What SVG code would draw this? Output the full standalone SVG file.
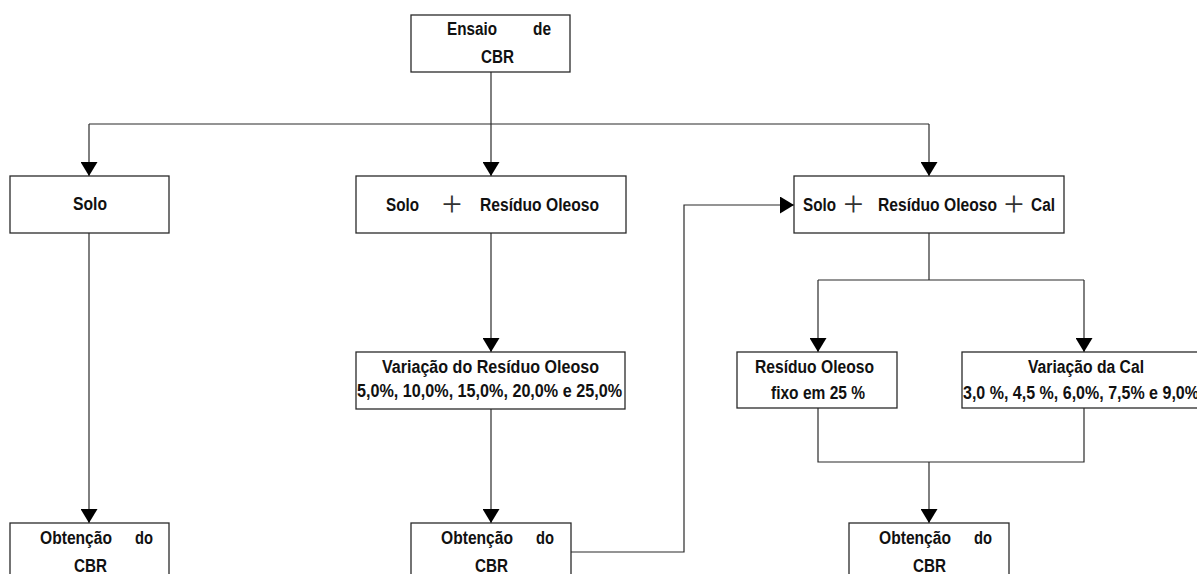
<svg xmlns="http://www.w3.org/2000/svg" width="1197" height="574" viewBox="0 0 1197 574">
<style>
.box{fill:#fff;stroke:#2a2a2a;stroke-width:1.3}
.t{font-family:"Liberation Sans Narrow","Liberation Sans",Arial,sans-serif;font-weight:bold;font-size:17.5px;fill:#111}
.p{font-family:"Liberation Serif","Times New Roman",serif;font-size:36px;fill:#333;text-anchor:middle}
.c{fill:none;stroke:#2a2a2a;stroke-width:1.2}
</style>
<defs>
<marker id="ah" markerUnits="userSpaceOnUse" viewBox="0 0 14 17" refX="14" refY="8.5" markerWidth="14" markerHeight="17" orient="auto">
<path d="M0,0 L14,8.5 L0,17 z" fill="#000"/>
</marker>
</defs>
<rect width="1197" height="574" fill="#fff"/>
<g id="connectors">
<path class="c" d="M491,72 V124"/>
<path class="c" d="M89,124 H929"/>
<path class="c" d="M89,124 V176" marker-end="url(#ah)"/>
<path class="c" d="M491,124 V176" marker-end="url(#ah)"/>
<path class="c" d="M929,124 V176" marker-end="url(#ah)"/>
<path class="c" d="M89,233 V523" marker-end="url(#ah)"/>
<path class="c" d="M491,233 V352" marker-end="url(#ah)"/>
<path class="c" d="M491,409 V523" marker-end="url(#ah)"/>
<path class="c" d="M571,552 H684 V205 H794" marker-end="url(#ah)"/>
<path class="c" d="M929,233 V280"/>
<path class="c" d="M818,280 H1084"/>
<path class="c" d="M818,280 V352" marker-end="url(#ah)"/>
<path class="c" d="M1084,280 V352" marker-end="url(#ah)"/>
<path class="c" d="M818,408 V462 H1084 V408"/>
<path class="c" d="M929,462 V523" marker-end="url(#ah)"/>
</g>
<g id="ensaio">
<rect class="box" x="411" y="15" width="159" height="57"/>
<text class="t" x="447" y="35" textLength="50" lengthAdjust="spacingAndGlyphs">Ensaio</text>
<text class="t" x="533" y="35" textLength="18" lengthAdjust="spacingAndGlyphs">de</text>
<text class="t" x="481" y="63" textLength="33" lengthAdjust="spacingAndGlyphs">CBR</text>
</g>
<g id="solo">
<rect class="box" x="10" y="176" width="159" height="57"/>
<text class="t" x="73" y="210" textLength="34" lengthAdjust="spacingAndGlyphs">Solo</text>
</g>
<g id="solo-residuo">
<rect class="box" x="356" y="176" width="270" height="57"/>
<text class="t" x="386" y="211" textLength="33" lengthAdjust="spacingAndGlyphs">Solo</text>
<text class="p" x="452" y="216">+</text>
<text class="t" x="480" y="211" textLength="119" lengthAdjust="spacingAndGlyphs">Resíduo Oleoso</text>
</g>
<g id="solo-residuo-cal">
<rect class="box" x="794" y="176" width="270" height="57"/>
<text class="t" x="803" y="211" textLength="33" lengthAdjust="spacingAndGlyphs">Solo</text>
<text class="p" x="853.5" y="216">+</text>
<text class="t" x="878" y="211" textLength="119" lengthAdjust="spacingAndGlyphs">Resíduo Oleoso</text>
<text class="p" x="1014" y="216">+</text>
<text class="t" x="1031" y="211" textLength="24" lengthAdjust="spacingAndGlyphs">Cal</text>
</g>
<g id="variacao-residuo">
<rect class="box" x="356" y="352" width="269" height="57"/>
<text class="t" x="382" y="373" textLength="217" lengthAdjust="spacingAndGlyphs">Variação do Resíduo Oleoso</text>
<text class="t" x="357" y="397" textLength="265" lengthAdjust="spacingAndGlyphs">5,0%, 10,0%, 15,0%, 20,0% e 25,0%</text>
</g>
<g id="residuo-fixo">
<rect class="box" x="737" y="352" width="160" height="56"/>
<text class="t" x="755" y="373" textLength="119" lengthAdjust="spacingAndGlyphs">Resíduo Oleoso</text>
<text class="t" x="771" y="399" textLength="94" lengthAdjust="spacingAndGlyphs">fixo em 25 %</text>
</g>
<g id="variacao-cal">
<rect class="box" x="962" y="352" width="260" height="56"/>
<text class="t" x="1028" y="373" textLength="116" lengthAdjust="spacingAndGlyphs">Variação da Cal</text>
<text class="t" x="963" y="399" textLength="236" lengthAdjust="spacingAndGlyphs">3,0 %, 4,5 %, 6,0%, 7,5% e 9,0%</text>
</g>
<g id="obtencao-1">
<rect class="box" x="10" y="523" width="159" height="70"/>
<text class="t" x="40" y="544" textLength="72" lengthAdjust="spacingAndGlyphs">Obtenção</text>
<text class="t" x="135" y="544" textLength="18" lengthAdjust="spacingAndGlyphs">do</text>
<text class="t" x="74" y="572" textLength="33" lengthAdjust="spacingAndGlyphs">CBR</text>
</g>
<g id="obtencao-2">
<rect class="box" x="411" y="523" width="160" height="70"/>
<text class="t" x="441" y="544" textLength="72" lengthAdjust="spacingAndGlyphs">Obtenção</text>
<text class="t" x="536" y="544" textLength="18" lengthAdjust="spacingAndGlyphs">do</text>
<text class="t" x="475" y="572" textLength="33" lengthAdjust="spacingAndGlyphs">CBR</text>
</g>
<g id="obtencao-3">
<rect class="box" x="849" y="523" width="160" height="70"/>
<text class="t" x="879" y="544" textLength="72" lengthAdjust="spacingAndGlyphs">Obtenção</text>
<text class="t" x="974" y="544" textLength="18" lengthAdjust="spacingAndGlyphs">do</text>
<text class="t" x="913" y="572" textLength="33" lengthAdjust="spacingAndGlyphs">CBR</text>
</g>
</svg>
